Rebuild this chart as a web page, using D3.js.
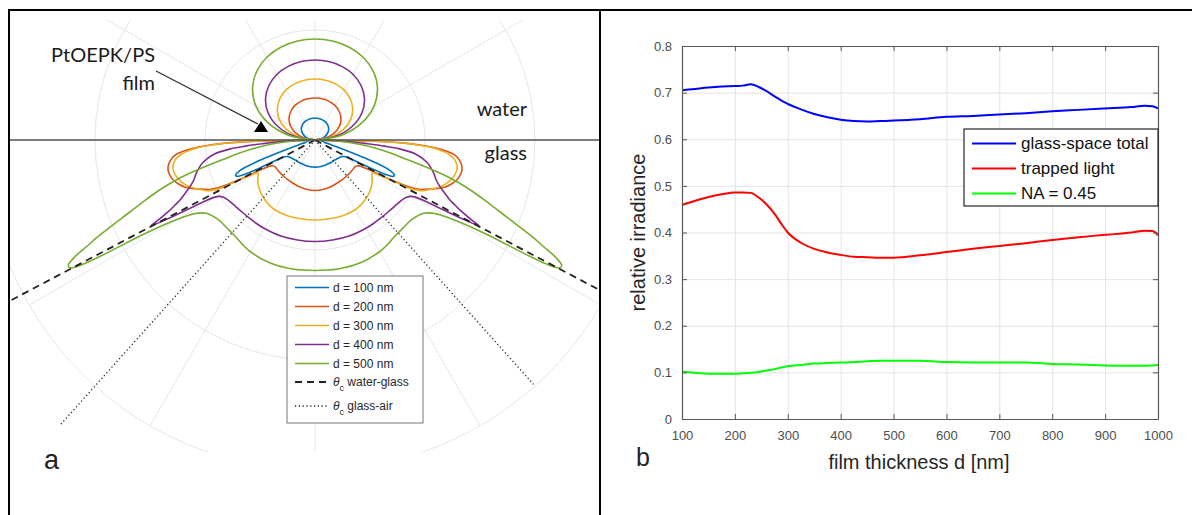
<!DOCTYPE html>
<html>
<head>
<meta charset="utf-8">
<script src="https://cdn.jsdelivr.net/npm/d3@7"></script>
<style>
  body { margin: 0; background: #fff; }
  #chart { width: 1192px; height: 515px; }
</style>
</head>
<body>
<div id="chart"></div>
<script>
const kSvgWidth = 1192;
const kSvgHeight = 515;

// ---- panel a: emission pattern of the film ----
// theta in degrees from the water-side normal (0 = up, 90 = interface, 180 = down into glass)
const thetaDeg = [0, 10, 20, 30, 40, 50, 60, 70, 80, 90,
  91, 92, 93, 94, 95, 96, 98, 100, 102, 104, 106, 108, 110, 112, 114, 115, 116, 117,
  117.6, 118.2, 118.8, 119.5, 120.5, 122, 124, 127, 130, 135, 140, 145, 150, 160, 170, 180];

const r100nm = [0.200, 0.199, 0.195, 0.190, 0.179, 0.162, 0.135, 0.098, 0.052, 0,
  0.009, 0.018, 0.027, 0.036, 0.045, 0.055, 0.064, 0.073, 0.082, 0.091, 0.127, 0.255, 0.500, 0.727,
  0.791, 0.782, 0.709, 0.527, 0.409, 0.345, 0.318, 0.305, 0.295, 0.286, 0.277, 0.271, 0.264,
  0.256, 0.253, 0.250, 0.248, 0.247, 0.247, 0.247];
const r200nm = [0.382, 0.380, 0.374, 0.363, 0.341, 0.308, 0.258, 0.188, 0.100, 0,
  0.500, 0.818, 1.000, 1.127, 1.209, 1.273, 1.327, 1.355, 1.364, 1.355, 1.336, 1.300, 1.255, 1.182,
  1.100, 1.064, 1.000, 0.891, 0.782, 0.655, 0.564, 0.509, 0.464, 0.445, 0.436, 0.436, 0.436,
  0.436, 0.436, 0.438, 0.439, 0.447, 0.455, 0.459];
const r300nm = [0.555, 0.552, 0.543, 0.526, 0.495, 0.447, 0.375, 0.274, 0.145, 0,
  0.500, 0.800, 0.964, 1.091, 1.164, 1.218, 1.282, 1.309, 1.318, 1.309, 1.291, 1.264, 1.227, 1.173,
  1.118, 1.091, 1.045, 0.964, 0.855, 0.727, 0.645, 0.609, 0.600, 0.609, 0.627, 0.650, 0.668,
  0.691, 0.709, 0.723, 0.732, 0.732, 0.727, 0.727];
const r400nm = [0.727, 0.724, 0.712, 0.690, 0.650, 0.587, 0.492, 0.358, 0.190, 0,
  0.109, 0.227, 0.345, 0.473, 0.636, 0.773, 0.927, 1.000, 1.055, 1.091, 1.127, 1.155, 1.200, 1.264,
  1.345, 1.409, 1.482, 1.591, 1.682, 1.500, 1.227, 1.064, 1.009, 0.982, 0.964, 0.950, 0.941,
  0.932, 0.927, 0.927, 0.927, 0.927, 0.923, 0.923];
const r500nm = [0.918, 0.914, 0.899, 0.871, 0.821, 0.741, 0.621, 0.453, 0.240, 0,
  0.073, 0.145, 0.218, 0.291, 0.364, 0.436, 0.573, 0.709, 0.855, 1.073, 1.309, 1.500, 1.682, 1.891,
  2.164, 2.291, 2.436, 2.518, 2.509, 2.382, 1.773, 1.527, 1.364, 1.255, 1.191, 1.155, 1.136,
  1.132, 1.136, 1.155, 1.173, 1.191, 1.191, 1.186];

const patternLabels = ["d = 100 nm", "d = 200 nm", "d = 300 nm", "d = 400 nm", "d = 500 nm"];
const patternColors = ["#0072bd", "#d95319", "#edb120", "#7e2f8e", "#77ac30"];

// critical angles, degrees from the glass normal
const critWaterGlass = 62.2;
const critGlassAir = 41.8;
const glassAirLength = [3.48, 2.98]; // left, right

const polarRings = [1, 2, 3];
const polarSpokes = d3.range(0, 360, 30);

// ---- panel b: irradiance vs film thickness ----
const thicknessNm = [100, 125, 150, 175, 200, 215, 230, 245, 260, 275, 290, 300, 325, 350, 375, 400,
  425, 450, 475, 500, 550, 600, 650, 700, 750, 800, 850, 900, 950, 975, 990, 1000];
const glassTotal = [0.705, 0.708, 0.711, 0.713, 0.714, 0.715, 0.718, 0.712, 0.703, 0.692, 0.682, 0.676,
  0.664, 0.654, 0.647, 0.642, 0.639, 0.638, 0.639, 0.640, 0.643, 0.648, 0.650, 0.653, 0.656, 0.660,
  0.663, 0.666, 0.669, 0.672, 0.671, 0.666];
const trappedLight = [0.459, 0.468, 0.476, 0.482, 0.486, 0.486, 0.485, 0.475, 0.460, 0.440, 0.415, 0.400,
  0.378, 0.365, 0.357, 0.352, 0.348, 0.347, 0.346, 0.346, 0.351, 0.358, 0.365, 0.371, 0.377, 0.384,
  0.390, 0.395, 0.400, 0.404, 0.403, 0.394];
const na045 = [0.102, 0.099, 0.097, 0.097, 0.097, 0.098, 0.099, 0.101, 0.104, 0.107, 0.111, 0.113,
  0.116, 0.119, 0.120, 0.121, 0.122, 0.124, 0.125, 0.125, 0.125, 0.122, 0.121, 0.121, 0.121, 0.118,
  0.117, 0.115, 0.114, 0.114, 0.115, 0.116];

const seriesLabels = ["glass-space total", "trapped light", "NA = 0.45"];
const seriesColors = ["#0000ff", "#ff0000", "#00ff00"];
const xTicks = d3.range(100, 1001, 100);
const yTicks = [0, 0.1, 0.2, 0.3, 0.4, 0.5, 0.6, 0.7, 0.8];

const kSans = "'Liberation Sans', Arial, Helvetica, sans-serif";
const kHuman = "Lato, 'Open Sans', sans-serif";

function createSvg()
{
  const svg = d3.select("#chart")
    .append("svg")
    .attr("width", kSvgWidth)
    .attr("height", kSvgHeight)
    .style("display", "block");

  svg.append("defs").append("clipPath")
    .attr("id", "clipA")
    .append("rect")
    .attr("x", 10).attr("y", 20)
    .attr("width", 589).attr("height", 432);

  return svg;
}

function drawFrame(svg)
{
  const frame = svg.append("g").attr("stroke", "#000").attr("stroke-width", 2);
  frame.append("line").attr("x1", 8).attr("x2", kSvgWidth).attr("y1", 10).attr("y2", 10);
  frame.append("line").attr("x1", 9).attr("x2", 9).attr("y1", 10).attr("y2", kSvgHeight);
  frame.append("line").attr("x1", 600).attr("x2", 600).attr("y1", 10).attr("y2", kSvgHeight);
}

function drawPolar(svg)
{
  const cx = 315, cy = 140;
  const rScale = d3.scaleLinear().domain([0, 3]).range([0, 330]);
  const rad = d => d * Math.PI / 180;

  const clipped = svg.append("g").attr("clip-path", "url(#clipA)");
  const g = clipped.append("g").attr("transform", `translate(${cx},${cy})`);

  // grid
  g.selectAll("circle.ring")
    .data(polarRings)
    .enter()
    .append("circle")
    .attr("class", "ring")
    .attr("r", d => rScale(d))
    .attr("fill", "none")
    .attr("stroke", "#e6e6e6")
    .attr("stroke-width", 1);

  g.selectAll("line.spoke")
    .data(polarSpokes)
    .enter()
    .append("line")
    .attr("class", "spoke")
    .attr("x1", 0).attr("y1", 0)
    .attr("x2", d => rScale(3) * Math.sin(rad(d)))
    .attr("y2", d => -rScale(3) * Math.cos(rad(d)))
    .attr("stroke", "#e6e6e6")
    .attr("stroke-width", 1);

  // emission patterns, mirrored about the normal
  const radial = d3.lineRadial()
    .angle(d => d[0])
    .radius(d => rScale(d[1]))
    .curve(d3.curveCatmullRomClosed.alpha(0.5));

  const patterns = [r100nm, r200nm, r300nm, r400nm, r500nm].map(r => {
    const right = thetaDeg.map((t, i) => [rad(t), r[i]]);
    const left = [];
    for (let i = thetaDeg.length - 2; i >= 1; i--) left.push([rad(360 - thetaDeg[i]), r[i]]);
    return right.concat(left);
  });

  g.selectAll("path.pattern")
    .data(patterns)
    .enter()
    .append("path")
    .attr("class", "pattern")
    .attr("d", radial)
    .attr("fill", "none")
    .attr("stroke", (d, i) => patternColors[i])
    .attr("stroke-width", 1.6);

  // critical angle lines
  const critLines = [
    {a: 180 + critWaterGlass, r: 3.5, dash: "7,5", w: 1.8},
    {a: 180 - critWaterGlass, r: 3.5, dash: "7,5", w: 1.8},
    {a: 180 + critGlassAir, r: glassAirLength[0], dash: "1.2,2.6", w: 1.3},
    {a: 180 - critGlassAir, r: glassAirLength[1], dash: "1.2,2.6", w: 1.3}
  ];
  g.selectAll("line.crit")
    .data(critLines)
    .enter()
    .append("line")
    .attr("class", "crit")
    .attr("x1", 0).attr("y1", 0)
    .attr("x2", d => rScale(d.r) * Math.sin(rad(d.a)))
    .attr("y2", d => -rScale(d.r) * Math.cos(rad(d.a)))
    .attr("stroke", "#222")
    .attr("stroke-width", d => d.w)
    .attr("stroke-dasharray", d => d.dash);

  // interface
  svg.append("line")
    .attr("x1", 10).attr("x2", 599)
    .attr("y1", cy).attr("y2", cy)
    .attr("stroke", "#555")
    .attr("stroke-width", 1.3);

  // annotations
  const note = svg.append("g")
    .attr("font-family", kHuman)
    .attr("font-size", 20)
    .attr("fill", "#1a1a1a")
    .attr("text-anchor", "end");
  note.append("text").attr("x", 155).attr("y", 62).text("PtOEPK/PS");
  note.append("text").attr("x", 155).attr("y", 90).text("film");
  note.append("text").attr("x", 527).attr("y", 116).text("water");
  note.append("text").attr("x", 527).attr("y", 160).text("glass");

  svg.append("line")
    .attr("x1", 156).attr("y1", 71)
    .attr("x2", 258).attr("y2", 124)
    .attr("stroke", "#333")
    .attr("stroke-width", 1.3);
  svg.append("path")
    .attr("d", "M261,121 L254,132 L268,132 Z")
    .attr("fill", "#000");

  svg.append("text")
    .attr("x", 44).attr("y", 469)
    .attr("font-family", kSans)
    .attr("font-size", 27)
    .attr("fill", "#222")
    .text("a");

  // legend
  const lg = svg.append("g").attr("transform", "translate(287,276)");
  lg.append("rect")
    .attr("width", 136).attr("height", 147)
    .attr("fill", "#fff")
    .attr("stroke", "#777")
    .attr("stroke-width", 1);

  const rows = patternLabels.map((t, i) => ({t, color: patternColors[i], y: 11.5 + i * 19}));
  const item = lg.selectAll("g.item")
    .data(rows)
    .enter()
    .append("g")
    .attr("class", "item")
    .attr("transform", d => `translate(0,${d.y})`);
  item.append("line")
    .attr("x1", 8).attr("x2", 42)
    .attr("stroke", d => d.color)
    .attr("stroke-width", 1.6);
  item.append("text")
    .attr("x", 46).attr("dy", "0.35em")
    .attr("font-family", kSans).attr("font-size", 12)
    .attr("fill", "#262626")
    .text(d => d.t);

  const crit = [{y: 106, dash: "7,5", w: 1.8, t: "water-glass"},
                {y: 130, dash: "1.2,2.6", w: 1.3, t: "glass-air"}];
  const cg = lg.selectAll("g.crit")
    .data(crit)
    .enter()
    .append("g")
    .attr("transform", d => `translate(0,${d.y})`);
  cg.append("line")
    .attr("x1", 8).attr("x2", 42)
    .attr("stroke", "#222")
    .attr("stroke-width", d => d.w)
    .attr("stroke-dasharray", d => d.dash);
  const ct = cg.append("text")
    .attr("x", 46).attr("dy", "0.35em")
    .attr("font-family", kSans).attr("font-size", 12)
    .attr("fill", "#262626");
  ct.append("tspan").attr("font-style", "italic").text("\u03b8");
  ct.append("tspan").attr("font-size", 9).attr("dy", 5).text("c");
  ct.append("tspan").attr("dy", -5).text(d => " " + d.t);
}

function drawLines(svg)
{
  const left = 682, right = 1158, top = 46, bottom = 419;
  const xScale = d3.scaleLinear().domain([100, 1000]).range([left, right]);
  const yScale = d3.scaleLinear().domain([0, 0.8]).range([bottom, top]);

  const g = svg.append("g");

  // grid
  g.append("g")
    .attr("transform", `translate(0,${bottom})`)
    .call(d3.axisBottom(xScale).tickValues(xTicks).tickSize(-(bottom - top)).tickFormat(""))
    .call(a => a.select(".domain").remove())
    .selectAll("line").attr("stroke", "#e3e3e3");
  g.append("g")
    .attr("transform", `translate(${left},0)`)
    .call(d3.axisLeft(yScale).tickValues(yTicks).tickSize(-(right - left)).tickFormat(""))
    .call(a => a.select(".domain").remove())
    .selectAll("line").attr("stroke", "#e3e3e3");

  // data
  const line = d3.line()
    .x((d, i) => xScale(thicknessNm[i]))
    .y(d => yScale(d))
    .curve(d3.curveMonotoneX);

  g.selectAll("path.series")
    .data([glassTotal, trappedLight, na045])
    .enter()
    .append("path")
    .attr("class", "series")
    .attr("d", line)
    .attr("fill", "none")
    .attr("stroke", (d, i) => seriesColors[i])
    .attr("stroke-width", 2);

  // axes with inward ticks on all sides
  const styleAxis = a => {
    a.select(".domain").attr("stroke", "#595959").attr("stroke-width", 1.2);
    a.selectAll(".tick line").attr("stroke", "#595959");
    a.selectAll("text").attr("font-family", kSans).attr("font-size", 13).attr("fill", "#4d4d4d");
  };
  const yFmt = d => d === 0 ? "0" : d3.format(".1f")(d);

  g.append("g")
    .attr("transform", `translate(0,${bottom})`)
    .call(d3.axisBottom(xScale).tickValues(xTicks).tickSizeInner(-5).tickSizeOuter(0)
      .tickPadding(12).tickFormat(d3.format("d")))
    .call(styleAxis);
  g.append("g")
    .attr("transform", `translate(0,${top})`)
    .call(d3.axisTop(xScale).tickValues(xTicks).tickSizeInner(-5).tickSizeOuter(0).tickFormat(""))
    .call(styleAxis);
  g.append("g")
    .attr("transform", `translate(${left},0)`)
    .call(d3.axisLeft(yScale).tickValues(yTicks).tickSizeInner(-5).tickSizeOuter(0).tickPadding(10).tickFormat(yFmt))
    .call(styleAxis);
  g.append("g")
    .attr("transform", `translate(${right},0)`)
    .call(d3.axisRight(yScale).tickValues(yTicks).tickSizeInner(-5).tickSizeOuter(0).tickFormat(""))
    .call(styleAxis);

  // labels
  g.append("text")
    .attr("x", (left + right) / 2 - 1).attr("y", 469)
    .attr("text-anchor", "middle")
    .attr("font-family", kSans).attr("font-size", 20)
    .attr("fill", "#262626")
    .text("film thickness d [nm]");
  g.append("text")
    .attr("transform", `translate(645,${(top + bottom) / 2}) rotate(-90)`)
    .attr("text-anchor", "middle")
    .attr("font-family", kSans).attr("font-size", 20)
    .attr("fill", "#262626")
    .text("relative irradiance");
  g.append("text")
    .attr("x", 636).attr("y", 466)
    .attr("font-family", kSans).attr("font-size", 25)
    .attr("fill", "#222")
    .text("b");

  // legend
  const lg = g.append("g").attr("transform", "translate(964,129)");
  lg.append("rect")
    .attr("width", 194).attr("height", 77)
    .attr("fill", "#fff")
    .attr("stroke", "#262626")
    .attr("stroke-width", 1.2);
  const item = lg.selectAll("g.item")
    .data(seriesLabels)
    .enter()
    .append("g")
    .attr("transform", (d, i) => `translate(0,${14.5 + i * 25})`);
  item.append("line")
    .attr("x1", 8).attr("x2", 52)
    .attr("stroke", (d, i) => seriesColors[i])
    .attr("stroke-width", 2);
  item.append("text")
    .attr("x", 57).attr("dy", "0.35em")
    .attr("font-family", kSans).attr("font-size", 17)
    .attr("fill", "#111")
    .text(d => d);
}

document.addEventListener('DOMContentLoaded', () => {
  const svg = createSvg();
  drawPolar(svg);
  drawLines(svg);
  drawFrame(svg);
});
</script>
</body>
</html>
